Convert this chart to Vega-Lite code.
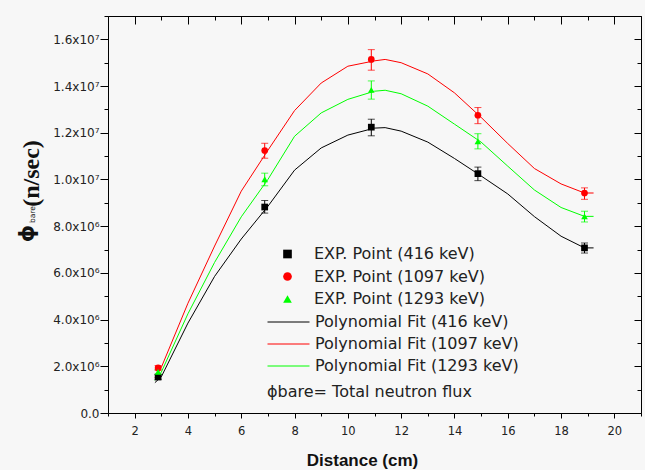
{
  "$schema": "https://vega.github.io/schema/vega-lite/v6.json",
  "width": 533,
  "height": 397,
  "autosize": {"type": "none"},
  "padding": {"left": 108, "top": 16, "right": 4, "bottom": 57},
  "background": "#f7f7f7",
  "config": {
    "view": {"stroke": null},
    "axis": {"grid": false, "domainColor": "#000000", "tickColor": "#000000", "labelColor": "#222222", "labelFont": "DejaVu Sans", "titleColor": "#111111", "labelFlush": false, "labelOverlap": false, "domainWidth": 1, "tickWidth": 1}
  },
  "datasets": {
    "fit": [
      {"x": 2.76, "y": 1300000, "fit": "Polynomial Fit (416 keV)"},
      {"x": 3, "y": 1550000, "fit": "Polynomial Fit (416 keV)"},
      {"x": 4, "y": 3850000, "fit": "Polynomial Fit (416 keV)"},
      {"x": 5, "y": 5850000, "fit": "Polynomial Fit (416 keV)"},
      {"x": 6, "y": 7450000, "fit": "Polynomial Fit (416 keV)"},
      {"x": 7, "y": 8850000, "fit": "Polynomial Fit (416 keV)"},
      {"x": 8, "y": 10400000, "fit": "Polynomial Fit (416 keV)"},
      {"x": 9, "y": 11350000, "fit": "Polynomial Fit (416 keV)"},
      {"x": 10, "y": 11900000, "fit": "Polynomial Fit (416 keV)"},
      {"x": 11, "y": 12200000, "fit": "Polynomial Fit (416 keV)"},
      {"x": 11.4, "y": 12220000, "fit": "Polynomial Fit (416 keV)"},
      {"x": 12, "y": 12070000, "fit": "Polynomial Fit (416 keV)"},
      {"x": 13, "y": 11600000, "fit": "Polynomial Fit (416 keV)"},
      {"x": 14, "y": 10900000, "fit": "Polynomial Fit (416 keV)"},
      {"x": 15, "y": 10150000, "fit": "Polynomial Fit (416 keV)"},
      {"x": 16, "y": 9380000, "fit": "Polynomial Fit (416 keV)"},
      {"x": 17, "y": 8410000, "fit": "Polynomial Fit (416 keV)"},
      {"x": 18, "y": 7570000, "fit": "Polynomial Fit (416 keV)"},
      {"x": 18.88, "y": 7070000, "fit": "Polynomial Fit (416 keV)"},
      {"x": 19.22, "y": 7070000, "fit": "Polynomial Fit (416 keV)"},
      {"x": 2.76, "y": 1500000, "fit": "Polynomial Fit (1097 keV)"},
      {"x": 3, "y": 1950000, "fit": "Polynomial Fit (1097 keV)"},
      {"x": 4, "y": 4700000, "fit": "Polynomial Fit (1097 keV)"},
      {"x": 5, "y": 7150000, "fit": "Polynomial Fit (1097 keV)"},
      {"x": 6, "y": 9500000, "fit": "Polynomial Fit (1097 keV)"},
      {"x": 7, "y": 11250000, "fit": "Polynomial Fit (1097 keV)"},
      {"x": 8, "y": 12950000, "fit": "Polynomial Fit (1097 keV)"},
      {"x": 9, "y": 14130000, "fit": "Polynomial Fit (1097 keV)"},
      {"x": 10, "y": 14850000, "fit": "Polynomial Fit (1097 keV)"},
      {"x": 11, "y": 15080000, "fit": "Polynomial Fit (1097 keV)"},
      {"x": 11.4, "y": 15140000, "fit": "Polynomial Fit (1097 keV)"},
      {"x": 12, "y": 15000000, "fit": "Polynomial Fit (1097 keV)"},
      {"x": 13, "y": 14520000, "fit": "Polynomial Fit (1097 keV)"},
      {"x": 14, "y": 13710000, "fit": "Polynomial Fit (1097 keV)"},
      {"x": 15, "y": 12660000, "fit": "Polynomial Fit (1097 keV)"},
      {"x": 16, "y": 11540000, "fit": "Polynomial Fit (1097 keV)"},
      {"x": 17, "y": 10470000, "fit": "Polynomial Fit (1097 keV)"},
      {"x": 18, "y": 9810000, "fit": "Polynomial Fit (1097 keV)"},
      {"x": 18.88, "y": 9420000, "fit": "Polynomial Fit (1097 keV)"},
      {"x": 19.22, "y": 9420000, "fit": "Polynomial Fit (1097 keV)"},
      {"x": 2.76, "y": 1400000, "fit": "Polynomial Fit (1293 keV)"},
      {"x": 3, "y": 1750000, "fit": "Polynomial Fit (1293 keV)"},
      {"x": 4, "y": 4250000, "fit": "Polynomial Fit (1293 keV)"},
      {"x": 5, "y": 6450000, "fit": "Polynomial Fit (1293 keV)"},
      {"x": 6, "y": 8400000, "fit": "Polynomial Fit (1293 keV)"},
      {"x": 7, "y": 10000000, "fit": "Polynomial Fit (1293 keV)"},
      {"x": 8, "y": 11850000, "fit": "Polynomial Fit (1293 keV)"},
      {"x": 9, "y": 12850000, "fit": "Polynomial Fit (1293 keV)"},
      {"x": 10, "y": 13430000, "fit": "Polynomial Fit (1293 keV)"},
      {"x": 11, "y": 13780000, "fit": "Polynomial Fit (1293 keV)"},
      {"x": 11.4, "y": 13820000, "fit": "Polynomial Fit (1293 keV)"},
      {"x": 12, "y": 13670000, "fit": "Polynomial Fit (1293 keV)"},
      {"x": 13, "y": 13140000, "fit": "Polynomial Fit (1293 keV)"},
      {"x": 14, "y": 12370000, "fit": "Polynomial Fit (1293 keV)"},
      {"x": 15, "y": 11600000, "fit": "Polynomial Fit (1293 keV)"},
      {"x": 16, "y": 10570000, "fit": "Polynomial Fit (1293 keV)"},
      {"x": 17, "y": 9550000, "fit": "Polynomial Fit (1293 keV)"},
      {"x": 18, "y": 8800000, "fit": "Polynomial Fit (1293 keV)"},
      {"x": 18.88, "y": 8420000, "fit": "Polynomial Fit (1293 keV)"},
      {"x": 19.22, "y": 8420000, "fit": "Polynomial Fit (1293 keV)"}
    ],
    "exp": [
      {"x": 2.88, "y": 1540000, "lo": 1440000, "hi": 1640000, "pts": "EXP. Point (416 keV)", "fit": "Polynomial Fit (416 keV)"},
      {"x": 6.88, "y": 8820000, "lo": 8560000, "hi": 9100000, "pts": "EXP. Point (416 keV)", "fit": "Polynomial Fit (416 keV)"},
      {"x": 10.88, "y": 12240000, "lo": 11870000, "hi": 12580000, "pts": "EXP. Point (416 keV)", "fit": "Polynomial Fit (416 keV)"},
      {"x": 14.88, "y": 10250000, "lo": 9950000, "hi": 10530000, "pts": "EXP. Point (416 keV)", "fit": "Polynomial Fit (416 keV)"},
      {"x": 18.88, "y": 7070000, "lo": 6850000, "hi": 7280000, "pts": "EXP. Point (416 keV)", "fit": "Polynomial Fit (416 keV)"},
      {"x": 2.88, "y": 1930000, "lo": 1830000, "hi": 2030000, "pts": "EXP. Point (1097 keV)", "fit": "Polynomial Fit (1097 keV)"},
      {"x": 6.88, "y": 11240000, "lo": 10910000, "hi": 11550000, "pts": "EXP. Point (1097 keV)", "fit": "Polynomial Fit (1097 keV)"},
      {"x": 10.88, "y": 15140000, "lo": 14680000, "hi": 15560000, "pts": "EXP. Point (1097 keV)", "fit": "Polynomial Fit (1097 keV)"},
      {"x": 14.88, "y": 12750000, "lo": 12390000, "hi": 13080000, "pts": "EXP. Point (1097 keV)", "fit": "Polynomial Fit (1097 keV)"},
      {"x": 18.88, "y": 9420000, "lo": 9150000, "hi": 9640000, "pts": "EXP. Point (1097 keV)", "fit": "Polynomial Fit (1097 keV)"},
      {"x": 2.88, "y": 1760000, "lo": 1660000, "hi": 1860000, "pts": "EXP. Point (1293 keV)", "fit": "Polynomial Fit (1293 keV)"},
      {"x": 6.88, "y": 10010000, "lo": 9730000, "hi": 10270000, "pts": "EXP. Point (1293 keV)", "fit": "Polynomial Fit (1293 keV)"},
      {"x": 10.88, "y": 13840000, "lo": 13440000, "hi": 14220000, "pts": "EXP. Point (1293 keV)", "fit": "Polynomial Fit (1293 keV)"},
      {"x": 14.88, "y": 11630000, "lo": 11310000, "hi": 11960000, "pts": "EXP. Point (1293 keV)", "fit": "Polynomial Fit (1293 keV)"},
      {"x": 18.88, "y": 8420000, "lo": 8180000, "hi": 8640000, "pts": "EXP. Point (1293 keV)", "fit": "Polynomial Fit (1293 keV)"}
    ]
  },
  "resolve": {"axis": {"x": "independent", "y": "independent"}},
  "layer": [
    {
      "data": {"name": "fit"},
      "mark": {"type": "line", "strokeWidth": 1},
      "encoding": {
        "x": {"field": "x", "type": "quantitative", "scale": {"domain": [1, 21], "nice": false, "zero": false},
          "axis": {"orient": "bottom", "values": [2, 4, 6, 8, 10, 12, 14, 16, 18, 20], "tickSize": 5, "labelPadding": 7, "labelFontSize": 11.5, "domain": true,
            "title": "Distance (cm)", "titleFont": "Liberation Sans", "titleFontWeight": "bold", "titleFontSize": 17, "titleX": 254, "titleY": 47, "titleAlign": "center", "titleBaseline": "middle"}},
        "y": {"field": "y", "type": "quantitative", "scale": {"domain": [0, 17000000], "nice": false, "zero": false},
          "axis": {"orient": "left", "values": [0, 2000000, 4000000, 6000000, 8000000, 10000000, 12000000, 14000000, 16000000], "tickSize": 8, "labelPadding": 1, "labelFontSize": 12, "domain": true,
            "labelExpr": "datum.value == 0 ? '0.0' : (datum.value >= 10000000 ? format(datum.value / 10000000, '.1f') + 'x10⁷' : format(datum.value / 1000000, '.1f') + 'x10⁶')",
            "title": "(n/sec)", "titleFont": "Liberation Serif", "titleFontWeight": "bold", "titleFontSize": 24, "titleAngle": 270, "titleX": -77, "titleY": 157, "titleAlign": "center", "titleBaseline": "middle"}},
        "stroke": {"field": "fit", "type": "nominal",
          "scale": {"domain": ["Polynomial Fit (416 keV)", "Polynomial Fit (1097 keV)", "Polynomial Fit (1293 keV)"], "range": ["#000000", "#ff0000", "#00ff00"]},
          "legend": {"orient": "none", "legendX": 159, "legendY": 298, "direction": "vertical", "padding": 0,
            "title": "ϕbare= Total neutron flux", "titleOrient": "bottom", "titleFont": "DejaVu Sans", "titleFontSize": 16, "titleFontWeight": "normal", "titleColor": "#222222", "titlePadding": 10, "titleAnchor": "start", "titleLimit": 400,
            "symbolType": "M-3.75,0H17.25", "symbolSize": 16, "symbolStrokeWidth": 1, "labelOffset": 32, "rowPadding": 6,
            "labelFont": "DejaVu Sans", "labelFontSize": 16, "labelColor": "#222222", "labelLimit": 400}}
      }
    },
    {
      "data": {"name": "exp"},
      "mark": {"type": "rule", "strokeWidth": 1},
      "encoding": {
        "x": {"field": "x", "type": "quantitative", "scale": {"domain": [1, 21], "nice": false, "zero": false},
          "axis": {"orient": "top", "values": [2, 4, 6, 8, 10, 12, 14, 16, 18, 20], "tickSize": -8, "labels": false, "domain": true, "title": null}},
        "y": {"field": "lo", "type": "quantitative", "scale": {"domain": [0, 17000000], "nice": false, "zero": false},
          "axis": {"orient": "right", "values": [0, 2000000, 4000000, 6000000, 8000000, 10000000, 12000000, 14000000, 16000000], "tickSize": -7, "labels": false, "domain": true, "title": null}},
        "y2": {"field": "hi"},
        "stroke": {"field": "fit", "type": "nominal"}
      }
    },
    {
      "data": {"name": "exp"},
      "mark": {"type": "tick", "orient": "horizontal", "size": 7, "thickness": 1},
      "encoding": {
        "x": {"field": "x", "type": "quantitative", "scale": {"domain": [1, 21], "nice": false, "zero": false},
          "axis": {"orient": "bottom", "values": [1, 3, 5, 7, 9, 11, 13, 15, 17, 19, 21], "tickSize": 3, "labels": false, "domain": false, "title": null}},
        "y": {"field": "lo", "type": "quantitative", "scale": {"domain": [0, 17000000], "nice": false, "zero": false},
          "axis": {"orient": "left", "values": [1000000, 3000000, 5000000, 7000000, 9000000, 11000000, 13000000, 15000000, 17000000], "tickSize": 4, "labels": false, "domain": false,
            "title": "ϕ", "titleFont": "DejaVu Sans", "titleFontWeight": "bold", "titleFontSize": 22, "titleAngle": 270, "titleX": -82, "titleY": 217, "titleAlign": "center", "titleBaseline": "middle"}},
        "fill": {"field": "fit", "type": "nominal", "legend": null,
          "scale": {"domain": ["Polynomial Fit (416 keV)", "Polynomial Fit (1097 keV)", "Polynomial Fit (1293 keV)"], "range": ["#000000", "#ff0000", "#00ff00"]}}
      }
    },
    {
      "data": {"name": "exp"},
      "mark": {"type": "tick", "orient": "horizontal", "size": 7, "thickness": 1},
      "encoding": {
        "x": {"field": "x", "type": "quantitative", "scale": {"domain": [1, 21], "nice": false, "zero": false},
          "axis": {"orient": "top", "values": [1, 3, 5, 7, 9, 11, 13, 15, 17, 19, 21], "tickSize": -4, "labels": false, "domain": false, "title": null}},
        "y": {"field": "hi", "type": "quantitative", "scale": {"domain": [0, 17000000], "nice": false, "zero": false},
          "axis": {"orient": "right", "values": [1000000, 3000000, 5000000, 7000000, 9000000, 11000000, 13000000, 15000000, 17000000], "tickSize": -4, "labels": false, "domain": false, "title": null}},
        "fill": {"field": "fit", "type": "nominal", "legend": null}
      }
    },
    {
      "data": {"name": "exp"},
      "mark": {"type": "point", "filled": true, "opacity": 1, "size": 45},
      "encoding": {
        "x": {"field": "x", "type": "quantitative", "scale": {"domain": [1, 21], "nice": false, "zero": false}, "axis": null},
        "y": {"field": "y", "type": "quantitative", "scale": {"domain": [0, 17000000], "nice": false, "zero": false},
          "axis": {"orient": "left", "ticks": false, "labels": false, "domain": false,
            "title": "bare", "titleFont": "DejaVu Sans", "titleFontWeight": "normal", "titleFontSize": 7.5, "titleAngle": 270, "titleX": -76, "titleY": 198, "titleAlign": "center", "titleBaseline": "middle"}},
        "color": {"field": "pts", "type": "nominal",
          "scale": {"domain": ["EXP. Point (416 keV)", "EXP. Point (1097 keV)", "EXP. Point (1293 keV)"], "range": ["#000000", "#ff0000", "#00ff00"]},
          "legend": {"orient": "none", "legendX": 171.5, "legendY": 230, "direction": "vertical", "padding": 0, "title": null,
            "symbolSize": 75, "symbolStrokeWidth": 0, "labelOffset": 18.5, "rowPadding": 6.5,
            "labelFont": "DejaVu Sans", "labelFontSize": 16, "labelColor": "#222222", "labelLimit": 400}},
        "shape": {"field": "pts", "type": "nominal",
          "scale": {"domain": ["EXP. Point (416 keV)", "EXP. Point (1097 keV)", "EXP. Point (1293 keV)"], "range": ["square", "circle", "triangle-up"]},
          "legend": {"orient": "none", "legendX": 171.5, "legendY": 230, "direction": "vertical", "padding": 0, "title": null,
            "symbolSize": 75, "symbolStrokeWidth": 0, "labelOffset": 18.5, "rowPadding": 6.5,
            "labelFont": "DejaVu Sans", "labelFontSize": 16, "labelColor": "#222222", "labelLimit": 400}}
      }
    }
  ]
}
